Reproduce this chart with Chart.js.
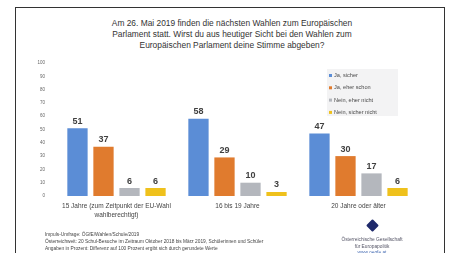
<!DOCTYPE html>
<html lang="de">
<head>
<meta charset="utf-8">
<script src="https://cdn.jsdelivr.net/npm/chart.js@4"></script>
<style>
  html, body { margin: 0; padding: 0; background: #fff; }
  #wrap { position: relative; width: 451px; height: 253px; overflow: hidden; font-family: 'Liberation Sans', Arial, sans-serif; }
  #frame { position: absolute; left: 15px; top: 7px; width: 428px; height: 260px; border-left: 1.5px solid #333; border-top: 1.5px solid #333; border-right: 1.5px solid #333; }
  #title { position: absolute; left: 82px; width: 300px; top: 18px; text-align: center; font-size: 8.4px; line-height: 11px; color: #333; }
  #notes { position: absolute; left: 45px; top: 231px; font-size: 4.8px; line-height: 7px; color: #444; white-space: nowrap; }
  #logo { position: absolute; left: 327px; top: 219px; width: 90px; text-align: center; font-size: 4.8px; line-height: 6.5px; color: #556; }
  #logo .dia { width: 9px; height: 9px; background: #1f2a6b; transform: rotate(45deg); margin: 2px auto 7px; border-radius: 1px; }
  #logo .url { color: #4a6fb5; }
  canvas { position: absolute; left: 0; top: 0; }
</style>
</head>
<body>
<div id="wrap">
  <div id="frame"></div>
  <div id="title">Am 26. Mai 2019 finden die nächsten Wahlen zum Europäischen<br>Parlament statt. Wirst du aus heutiger Sicht bei den Wahlen zum<br>Europäischen Parlament deine Stimme abgeben?</div>
  <canvas id="chart" width="451" height="253"></canvas>
  <div id="notes">Impuls-Umfrage: ÖGfE/Wahlen/Schule/2019<br>Österreichweit: 20 Schul-Besuche im Zeitraum Oktober 2018 bis März 2019, Schülerinnen und Schüler<br>Angaben in Prozent: Differenz auf 100 Prozent ergibt sich durch gerundete Werte</div>
  <div id="logo"><div class="dia"></div>Österreichische Gesellschaft<br>für Europapolitik<br><span class="url">www.oegfe.at</span></div>
</div>
<script>
const categories = [
  ['15 Jahre (zum Zeitpunkt der EU-Wahl', 'wahlberechtigt)'],
  '16 bis 19 Jahre',
  '20 Jahre oder älter'
];
const seriesLabels = ['Ja, sicher', 'Ja, eher schon', 'Nein, eher nicht', 'Nein, sicher nicht'];
const jaSicher = [51, 58, 47];
const jaEherSchon = [37, 29, 30];
const neinEherNicht = [6, 10, 17];
const neinSicherNicht = [6, 3, 6];
const yTicks = [0, 10, 20, 30, 40, 50, 60, 70, 80, 90, 100];

const colors = ['#5b8dd6', '#e07b2e', '#b4b7bd', '#efc11c'];
const seriesValues = [jaSicher, jaEherSchon, neinEherNicht, neinSicherNicht];

const valueLabels = {
  id: 'valueLabels',
  afterDatasetsDraw(chart) {
    const ctx = chart.ctx;
    ctx.save();
    ctx.font = 'bold 9px "Liberation Sans", Arial, sans-serif';
    ctx.fillStyle = '#404040';
    ctx.textAlign = 'center';
    ctx.textBaseline = 'bottom';
    chart.data.datasets.forEach((ds, i) => {
      chart.getDatasetMeta(i).data.forEach((bar, j) => {
        ctx.fillText(String(ds.data[j]), bar.x, bar.y - 2.5);
      });
    });
    ctx.restore();
  }
};

const boxLegend = {
  id: 'boxLegend',
  afterDraw(chart) {
    const ctx = chart.ctx;
    const x = 327, y = 69, w = 71, h = 47;
    ctx.save();
    ctx.fillStyle = '#f3f3f4';
    ctx.fillRect(x, y, w, h);
    ctx.font = '5.6px "Liberation Sans", Arial, sans-serif';
    ctx.textBaseline = 'middle';
    chart.data.datasets.forEach((ds, i) => {
      const cy = y + 6.5 + i * 12.3;
      ctx.fillStyle = ds.backgroundColor;
      ctx.fillRect(x + 2, cy - 1.5, 3, 3);
      ctx.fillStyle = '#4a4a4a';
      ctx.fillText(ds.label, x + 7, cy);
    });
    ctx.restore();
  }
};

new Chart(document.getElementById('chart'), {
  type: 'bar',
  data: {
    labels: categories,
    datasets: seriesLabels.map((label, i) => ({
      label,
      data: seriesValues[i],
      backgroundColor: colors[i],
      categoryPercentage: 0.86,
      barPercentage: 0.78
    }))
  },
  options: {
    responsive: false,
    animation: false,
    layout: { padding: { left: 36, right: 32, top: 63, bottom: 33 } },
    plugins: { legend: { display: false }, tooltip: { enabled: false } },
    scales: {
      x: {
        grid: { display: false, drawTicks: false },
        border: { display: false },
        ticks: { color: '#444', font: { size: 6.5, family: '"Liberation Sans", Arial, sans-serif', lineHeight: 1.35 }, padding: 6, maxRotation: 0, autoSkip: false },
        afterFit(scale) { scale.height = 24; }
      },
      y: {
        min: 0,
        max: 100,
        grid: { display: false, drawTicks: false },
        border: { display: false },
        afterBuildTicks(scale) { scale.ticks = yTicks.map((v) => ({ value: v })); },
        ticks: { color: '#666', font: { size: 4.5, family: '"Liberation Sans", Arial, sans-serif' }, padding: 11 },
        afterFit(scale) { scale.width = 20; }
      }
    }
  },
  plugins: [valueLabels, boxLegend]
});
</script>
</body>
</html>
